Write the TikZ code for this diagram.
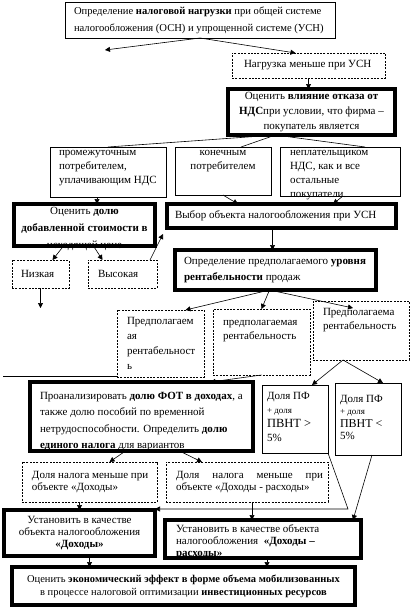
\documentclass[tikz,border=0pt]{standalone}
\usepackage{fontspec}
\setmainfont{Liberation Serif}
\usetikzlibrary{arrows.meta}
\newcommand{\fs}[2][11]{\fontsize{#1}{#2}\selectfont}
\newcommand{\cell}[4][c]{\parbox[c][\dimexpr#3pt-6pt\relax][#1]{\dimexpr#2pt-10pt\relax}{#4}}
\begin{document}
\begin{tikzpicture}[x=1pt, y=-1pt, line width=0.6pt,
  box/.style={draw, anchor=north west, inner xsep=5pt, inner ysep=3pt, outer sep=0pt, font={\fs{14}}},
  dbox/.style={box, dash pattern=on 2pt off 1.3pt},
  tbox/.style={box, line width=4pt},
  arr/.style={-{Triangle[length=5pt,width=5pt]}}]
\useasboundingbox (0,0) rectangle (412,608);
% boxes
\node[box, font={\fs[10.6]{17}}] (top) at (65,2) {\cell{270}{36}{\raggedright\leftskip=4pt Определение \textbf{налоговой нагрузки} при общей системе\\ налогообложения (ОСН) и упрощенной системе (УСН)}};
\node[dbox] (nagr) at (232,53) {\cell{153}{25}{\leftskip=7pt Нагрузка меньше при УСН}};
\node[tbox, font={\fs{15}}] (vliyanie) at (228,89) {\cell{167}{46}{\centering Оценить \textbf{влияние отказа от}\\ \textbf{НДС}при условии, что фирма –\\ покупатель является}};
\node[box] (potr1) at (50,147) {\cell[t]{116}{50}{\leftskip=4pt промежуточным\\ потребителем,\\ уплачивающим НДС}};
\node[box] (potr2) at (175,147) {\cell[t]{96}{48}{\centering конечным\\ потребителем}};
\node[box] (potr3) at (280,147) {\cell[t]{120}{49}{\leftskip=5pt неплательщиком\\ НДС, как и все\\ остальные\\ покупатели.}};
\node[tbox, font={\fs{17}}] (dolya) at (14,204) {\cell[t]{141}{42}{\centering Оценить \textbf{долю}\\ \textbf{добавленной стоимости в}\\ исходящей цене}};
\node[tbox] (vybor) at (167,204) {\cell{229}{24}{\leftskip=3pt Выбор объекта налогообложения при УСН}};
\node[dbox] (nizk) at (12,260) {\cell{57}{28}{\leftskip=4pt Низкая}};
\node[dbox] (vys) at (88,260) {\cell{69}{28}{\leftskip=5pt Высокая}};
\node[tbox, font={\fs{16}}] (opred) at (175,250) {\cell{201}{40}{\leftskip=4pt Определение предполагаемого \textbf{уровня}\\ \textbf{рентабельности} продаж}};
\node[dbox, font={\fs{15}}] (predL) at (117,310) {\cell[t]{87}{67}{\vspace*{4pt}\leftskip=5pt Предполагаем\\ ая\\ рентабельност\\ ь}};
\node[dbox] (predM) at (213,309) {\cell[t]{97}{66}{\vspace*{8pt}\leftskip=5pt предполагаемая\\ рентабельность}};
\node[dbox] (predR) at (313,301) {\cell[t]{96}{59}{\vspace*{4pt}\leftskip=5pt Предполагаема\\ рентабельность}};
\node[tbox, font={\fs{16.5}}] (analiz) at (30,382) {\cell[t]{223}{69}{\vspace*{7pt}\leftskip=5pt Проанализировать \textbf{долю ФОТ в доходах}, а\\ также долю пособий по временной\\ нетрудоспособности. Определить \textbf{долю}\\ \textbf{единого налога} для вариантов}};
\node[box] (dpf1) at (262,385) {\cell[t]{66}{68}{\vspace*{4pt}Доля ПФ\\ {\fs[9]{14}+ доля}\\ {\fs[12.5]{15}ПВНТ >}\\ 5\%}};
\node[box, font={\fs{12.5}}] (dpf2) at (335,383) {\cell[t]{66}{72}{\vspace*{9pt}Доля ПФ\\ {\fs[9]{12}+ доля}\\ {\fs[12]{12}ПВНТ <}\\ 5\%}};
\node[dbox, font={\fs{12.5}}] (dohD) at (22,462) {\cell{135}{40}{\leftskip=5pt Доля налога меньше при\\ объекте «Доходы»}};
\node[dbox, font={\fs{12.5}}] (dohR) at (166,462) {\cell{162}{40}{\leftskip=5pt Доля налога меньше при\linebreak объекте «Доходы - расходы»}};
\node[tbox, font={\fs{12}}] (ustD) at (4,510) {\cell{151}{46}{\centering Установить в качестве\\ объекта налогообложения\\ \textbf{«Доходы»}}};
\node[tbox, font={\fs{12}}] (ustR) at (165,520) {\cell[t]{196}{38}{\vspace*{2pt}\leftskip=6pt Установить в качестве объекта\\ налогообложения \ \textbf{«Доходы –}\\ \textbf{расходы»}}};
\node[tbox, font={\fs[10.5]{13}}] (ocenka) at (12,567) {\cell{343}{38}{\centering Оценить \textbf{экономический эффект в форме объема мобилизованных}\\ в процессе налоговой оптимизации \textbf{инвестиционных ресурсов}}};
% free ends
\coordinate (lft) at (105,50);
\coordinate (nizkend) at (40,308);
\coordinate (lineL) at (3,376);
\coordinate (bend) at (348,509);
% connectors
\draw[arr] (top.south) -- (lft);
\draw[arr] (top.south) -- ([xshift=-13pt]nagr.north);
\draw[arr] (nagr.south) -- (nagr.south |- vliyanie.north);
\draw ([xshift=-36pt]vliyanie.south) -- (potr1.north);
\draw ([xshift=-36pt]vliyanie.south) -- ([xshift=18pt]potr2.north);
\draw ([xshift=-36pt]vliyanie.south) -- ([xshift=25pt]potr3.north);
\draw[arr] ([xshift=-11pt]potr1.south) -- ([xshift=-11pt]potr1.south |- dolya.north);
\draw[arr] (potr2.south) -- ([xshift=15pt]potr2.south |- vybor.north);
\draw[arr] ([xshift=3pt]potr3.south) -- ([xshift=-7pt]potr3.south |- vybor.north);
\draw[arr] ([xshift=-9pt]vybor.south) -- ([xshift=-9pt]vybor.south |- opred.north);
\draw[arr] ([xshift=-21pt]dolya.south) -- ([xshift=12pt]nizk.north);
\draw[arr] ([xshift=9pt]dolya.south) -- ([xshift=-20pt]vys.north);
\draw[arr] ([xshift=-7pt]vys.north east) -- ([shift={(-4pt,-6pt)}]vybor.south west);
\draw[arr] (nizk.south) -- (nizk.south |- nizkend);
\draw (lineL) -- (lineL -| predL.west);
\draw[arr] ([xshift=-6pt]opred.south) -- ([xshift=25pt]predL.north);
\draw[arr] ([xshift=-6pt]opred.south) -- (predM.north);
\draw[arr] ([xshift=-6pt]opred.south) -- ([shift={(-8pt,-7pt)}]predR.north);
\draw[arr] (predM.south) -- ([xshift=69pt]analiz.north);
\draw[arr] ([xshift=-18pt]predR.south) -- ([xshift=17pt]dpf1.north);
\draw[arr] ([xshift=-18pt]predR.south) -- ([xshift=15pt]dpf2.north);
\draw[arr] ([xshift=-16pt]analiz.south) -- ([xshift=20pt]dohD.north);
\draw[arr] ([xshift=38pt]analiz.south) -- ([xshift=-45pt]dohR.north);
\draw[arr] ([xshift=-10pt]dohD.south) -- ([xshift=-10pt]dohD.south |- ustD.north);
\draw[arr] ([xshift=5pt]dohR.south) -- ([xshift=5pt]dohR.south |- ustR.north);
\draw[arr] (dpf1.south east) -- (bend) -- (bend -| ustD.east);
\draw[arr] ([xshift=4pt]dpf2.south) -- ([xshift=-8pt]ustR.north east);
\draw[arr] ([xshift=10pt]ustD.south) -- ([xshift=10pt]ustD.south |- ocenka.north);
\draw[arr] ([xshift=4pt]ustR.south) -- ([xshift=4pt]ustR.south |- ocenka.north);
\end{tikzpicture}
\end{document}
